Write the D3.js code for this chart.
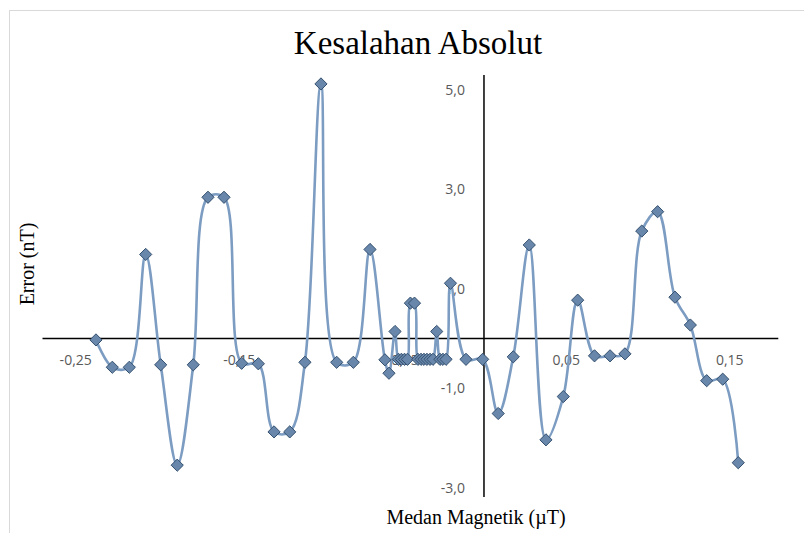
<!DOCTYPE html>
<html>
<head>
<meta charset="utf-8">
<script src="https://cdn.jsdelivr.net/npm/d3@7"></script>
<style>
  html, body { margin: 0; padding: 0; background: #ffffff; }
  svg { display: block; }
</style>
</head>
<body>
<svg id="chart" width="804" height="533"></svg>
<script>
// Magnetic field (µT) readings and the absolute error (nT) at each one
const medanMagnetik = [
  -0.2373, -0.2273, -0.2169, -0.2069, -0.1977, -0.1876, -0.1778, -0.1688,
  -0.1590, -0.1482, -0.1380, -0.1284, -0.1188, -0.1095, -0.0997, -0.0901,
  -0.0799, -0.0697, -0.0606, -0.0581, -0.0544, -0.0523, -0.0505, -0.0486,
  -0.0468, -0.0450, -0.0425, -0.0404, -0.0385, -0.0367, -0.0349, -0.0330,
  -0.0312, -0.0289, -0.0269, -0.0251, -0.0232, -0.0205, -0.0110, -0.0008,
   0.0087,  0.0179,  0.0277,  0.0379,  0.0485,  0.0573,  0.0676,  0.0771,
   0.0862,  0.0965,  0.1062,  0.1168,  0.1262,  0.1362,  0.1460,  0.1555
];
const errorNT = [
  -0.03, -0.58, -0.58,  1.69, -0.53, -2.55, -0.53,  2.84,
   2.84, -0.50, -0.51, -1.88, -1.88, -0.48,  5.12, -0.48,
  -0.48,  1.79, -0.43, -0.70,  0.14, -0.42, -0.42, -0.42,
  -0.42,  0.71,  0.71, -0.42, -0.42, -0.42, -0.42, -0.42,
  -0.42,  0.14, -0.42, -0.42, -0.42,  1.11, -0.42, -0.42,
  -1.51, -0.37,  1.88, -2.04, -1.17,  0.77, -0.35, -0.35,
  -0.31,  2.16,  2.55,  0.83,  0.27, -0.85, -0.82, -2.50
];
const xTicks = [-0.25, -0.15, -0.05, 0.05, 0.15];
const yTicks = [-3, -1, 1, 3, 5];

const chartTitle = "Kesalahan Absolut";
const xTitle = "Medan Magnetik (\u00b5T)";
const yTitle = "Error (nT)";

const points = medanMagnetik.map((m, i) => ({ x: m, y: errorNT[i] }));

const svg = d3.select("#chart");

// chart area outline
svg.append("rect")
  .attr("x", 9.5).attr("y", 10.5)
  .attr("width", 820).attr("height", 560)
  .attr("fill", "#ffffff")
  .attr("stroke", "#d9d9d9")
  .attr("stroke-width", 1);

const x = d3.scaleLinear().domain([-0.27, 0.18]).range([42.5, 778.3]);
const y = d3.scaleLinear().domain([-3.19, 5.3]).range([497, 75]);

const comma = f => v => f(v).replace(".", ",").replace("\u2212", "-");

// tick labels (drawn first so the markers sit on top)
const xAxis = d3.axisBottom(x)
  .tickValues(xTicks)
  .tickSize(0)
  .tickPadding(17)
  .tickFormat(comma(d3.format(".2f")));
const yAxis = d3.axisLeft(y)
  .tickValues(yTicks)
  .tickSize(0)
  .tickPadding(19)
  .tickFormat(comma(d3.format(".1f")));

const gx = svg.append("g")
  .attr("transform", `translate(0,${y(0)})`)
  .call(xAxis);
const gy = svg.append("g")
  .attr("transform", `translate(${x(0)},0)`)
  .call(yAxis);

[gx, gy].forEach(g => {
  g.select(".domain").remove();
  g.selectAll("text")
    .attr("fill", "#595959")
    .style("font-family", "'Open Sans', 'Liberation Sans', sans-serif")
    .style("font-size", "14px");
});

// axis lines crossing at the origin
svg.append("line")
  .attr("x1", x.range()[0]).attr("x2", x.range()[1])
  .attr("y1", y(0)).attr("y2", y(0))
  .attr("stroke", "#000000").attr("stroke-width", 1.5);
svg.append("line")
  .attr("x1", x(0)).attr("x2", x(0))
  .attr("y1", y.range()[1]).attr("y2", y.range()[0])
  .attr("stroke", "#000000").attr("stroke-width", 1.5);

// smoothed series line
const line = d3.line()
  .x(d => x(d.x))
  .y(d => y(d.y))
  .curve(d3.curveCatmullRom.alpha(0.5));

svg.append("path")
  .datum(points)
  .attr("d", line)
  .attr("fill", "none")
  .attr("stroke", "#7c9cc2")
  .attr("stroke-width", 2.6)
  .attr("stroke-linejoin", "round");

// diamond markers
const diamond = d3.symbol().type(d3.symbolDiamond2).size(95);
svg.append("g")
  .selectAll("path")
  .data(points)
  .join("path")
  .attr("transform", d => `translate(${x(d.x)},${y(d.y)})`)
  .attr("d", diamond)
  .attr("fill", "#6887ab")
  .attr("stroke", "#34506f")
  .attr("stroke-width", 1);

// titles
svg.append("text")
  .attr("x", 418).attr("y", 54)
  .attr("text-anchor", "middle")
  .style("font-family", "'Liberation Serif', 'Times New Roman', serif")
  .style("font-size", "33px")
  .attr("fill", "#000000")
  .text(chartTitle);

svg.append("text")
  .attr("x", 476).attr("y", 524)
  .attr("text-anchor", "middle")
  .style("font-family", "'Liberation Serif', 'Times New Roman', serif")
  .style("font-size", "20px")
  .attr("fill", "#000000")
  .text(xTitle);

svg.append("text")
  .attr("transform", "translate(34,264) rotate(-90)")
  .attr("text-anchor", "middle")
  .style("font-family", "'Liberation Serif', 'Times New Roman', serif")
  .style("font-size", "20px")
  .attr("fill", "#000000")
  .text(yTitle);
</script>
</body>
</html>
